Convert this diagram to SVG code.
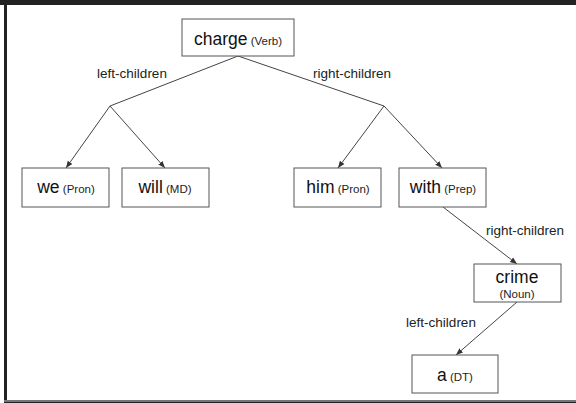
<svg xmlns="http://www.w3.org/2000/svg" width="576" height="403" viewBox="0 0 576 403">
<defs>
<marker id="arr" viewBox="0 0 10 10" refX="10" refY="5" markerWidth="7" markerHeight="7" orient="auto" markerUnits="userSpaceOnUse">
<path d="M0,1 L10,5 L0,9 z" fill="#333"/>
</marker>
<style>
.box{fill:#fff;stroke:#555;stroke-width:1}
.w{font-family:"Liberation Sans",Arial,sans-serif;font-size:17.5px;fill:#111}
.t{font-family:"Liberation Sans",Arial,sans-serif;font-size:11.5px;fill:#222}
.lbl{font-family:"Liberation Sans",Arial,sans-serif;font-size:13.5px;fill:#222}
.ln{stroke:#444;stroke-width:1;fill:none}
.ar{stroke:#444;stroke-width:1;fill:none;marker-end:url(#arr)}
</style>
</defs>
<rect x="0" y="0" width="576" height="403" fill="#fff"/>
<rect x="0" y="0" width="576" height="5" fill="#222"/>
<rect x="4" y="0" width="3" height="403" fill="#222"/>
<rect x="4" y="400" width="572" height="2" fill="#777"/>
<rect x="4" y="402" width="572" height="1" fill="#222"/>

<g id="connectors">
<polyline class="ln" points="238,56 110,106"/>
<polyline class="ln" points="238,56 384,106"/>
<line class="ar" x1="110" y1="106" x2="66" y2="168"/>
<line class="ar" x1="110" y1="106" x2="165" y2="168"/>
<line class="ar" x1="384" y1="106" x2="338" y2="168"/>
<line class="ar" x1="384" y1="106" x2="442" y2="168"/>
<line class="ar" x1="443" y1="207" x2="517" y2="264"/>
<line class="ar" x1="517" y1="302" x2="456" y2="355"/>
<text class="lbl" x="132" y="78" text-anchor="middle">left-children</text>
<text class="lbl" x="352" y="78" text-anchor="middle">right-children</text>
<text class="lbl" x="525" y="235" text-anchor="middle">right-children</text>
<text class="lbl" x="441" y="327" text-anchor="middle">left-children</text>
</g>

<g id="charge"><rect class="box" x="182" y="19" width="112" height="37"/><text x="238" y="45" text-anchor="middle"><tspan class="w">charge</tspan><tspan class="t"> (Verb)</tspan></text></g>
<g id="we"><rect class="box" x="22" y="168" width="87" height="39"/><text x="66" y="193" text-anchor="middle"><tspan class="w">we</tspan><tspan class="t"> (Pron)</tspan></text></g>
<g id="will"><rect class="box" x="122" y="168" width="87" height="39"/><text x="165" y="193" text-anchor="middle"><tspan class="w">will</tspan><tspan class="t"> (MD)</tspan></text></g>
<g id="him"><rect class="box" x="294" y="168" width="87" height="39"/><text x="338" y="193" text-anchor="middle"><tspan class="w">him</tspan><tspan class="t"> (Pron)</tspan></text></g>
<g id="with"><rect class="box" x="399" y="168" width="87" height="39"/><text x="443" y="193" text-anchor="middle"><tspan class="w">with</tspan><tspan class="t"> (Prep)</tspan></text></g>
<g id="crime"><rect class="box" x="474" y="264" width="87" height="38"/><text class="w" x="517" y="283" text-anchor="middle">crime</text><text class="t" x="517" y="298" text-anchor="middle">(Noun)</text></g>
<g id="a"><rect class="box" x="412" y="355" width="86" height="38"/><text x="455" y="381" text-anchor="middle"><tspan class="w">a</tspan><tspan class="t"> (DT)</tspan></text></g>
</svg>
